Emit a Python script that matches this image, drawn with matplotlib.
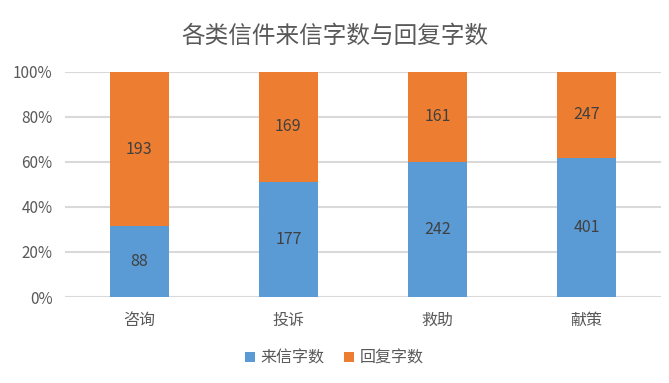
import numpy as np
import matplotlib
matplotlib.use('Agg')
import matplotlib.pyplot as plt

plt.rcParams['font.family'] = ['Noto Sans CJK SC', 'DejaVu Sans']

categories = ['咨询', '投诉', '救助', '献策']
letters = [88, 177, 242, 401]     # 来信字数
replies = [193, 169, 161, 247]    # 回复字数
series_names = ['来信字数', '回复字数']
yticks = [0, 20, 40, 60, 80, 100]

blue = '#5B9BD5'
orange = '#ED7D31'
txt = '#595959'

letters = np.array(letters, dtype=float)
replies = np.array(replies, dtype=float)
total = letters + replies
p_let = letters / total * 100
p_rep = replies / total * 100

fig = plt.figure(figsize=(6.69, 3.83), dpi=100)
ax = fig.add_axes([0.097, 0.2245, 0.891, 0.588])

x = np.arange(len(categories))
b1 = ax.bar(x, p_let, width=0.4, color=blue, label=series_names[0], zorder=3)
b2 = ax.bar(x, p_rep, width=0.4, bottom=p_let, color=orange, label=series_names[1], zorder=3)

for i in range(len(categories)):
    ax.text(x[i], p_let[i] / 2, '%d' % letters[i], ha='center', va='center',
            fontsize=11.5, color='#404040', zorder=4)
    ax.text(x[i], p_let[i] + p_rep[i] / 2, '%d' % replies[i], ha='center', va='center',
            fontsize=11.5, color='#404040', zorder=4)

ax.set_xlim(-0.5, len(categories) - 0.5)
ax.set_ylim(0, 100)
ax.set_yticks(yticks)
ax.set_yticklabels(['%d%%' % v for v in yticks], fontsize=11, color=txt)
ax.set_xticks(x)
ax.set_xticklabels(categories, fontsize=11.5, color=txt)
ax.tick_params(axis='both', length=0)
ax.tick_params(axis='x', pad=11)
ax.tick_params(axis='y', pad=9)
for s in ax.spines.values():
    s.set_visible(False)
ax.yaxis.grid(True, color='#D9D9D9', linewidth=1.5, zorder=0)
ax.set_axisbelow(True)

fig.text(0.5, 0.905, '各类信件来信字数与回复字数', ha='center', va='center',
         fontsize=17, color=txt)

fig.legend(handles=[b1, b2], labels=series_names, loc='center', ncol=2,
           bbox_to_anchor=(0.5, 0.065), frameon=False, fontsize=11.5,
           labelcolor=txt, handlelength=0.6, handleheight=0.6,
           columnspacing=1.2, handletextpad=0.4)

fig.savefig('out.png', dpi=100)
